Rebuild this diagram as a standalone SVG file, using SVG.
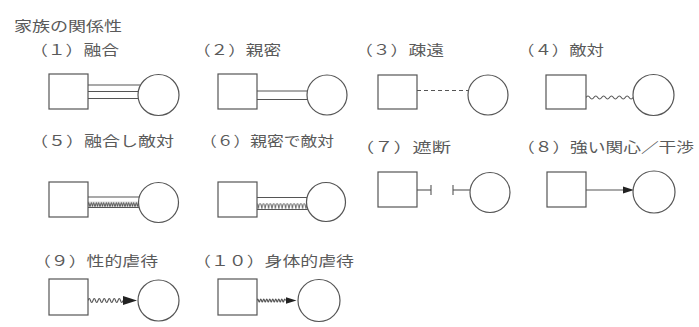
<svg xmlns="http://www.w3.org/2000/svg" width="699" height="327" viewBox="0 0 699 327">
<style>
text{font-family:"Noto Sans CJK JP","Noto Sans",sans-serif;font-size:14px;fill:#5a5a5a}
.n rect,.n circle{fill:#fff;stroke:#555;stroke-width:1.2}
.c path,.c line{fill:none;stroke:#555;stroke-width:1.1}
.z{stroke:none}
</style>
<defs>
<pattern id="zig5" x="0" y="201.5" width="2.5" height="6" patternUnits="userSpaceOnUse">
<polyline points="0,5.5 1.25,0.5 2.5,5.5" fill="none" stroke="#444" stroke-width="0.9"/>
</pattern>
<pattern id="zig6" x="0" y="203" width="3.4" height="6.5" patternUnits="userSpaceOnUse">
<path d="M0,6 Q0.8,0 1.7,0.5 Q2.6,0 3.4,6" fill="none" stroke="#666" stroke-width="0.9"/>
</pattern>
<marker id="ah" markerUnits="userSpaceOnUse" markerWidth="15" markerHeight="11" refX="0" refY="5" orient="0">
<path d="M0,0.5 L14,5 L0,9.5 z" fill="#222"/>
</marker>
<marker id="as" markerUnits="userSpaceOnUse" markerWidth="12" markerHeight="9" refX="0" refY="4" orient="0">
<path d="M0,0.5 L11,4 L0,7.5 z" fill="#222"/>
</marker>
</defs>
<text x="14" y="31" font-size="15" textLength="108" lengthAdjust="spacingAndGlyphs">家族の関係性</text>
<g id="labels">
<text x="30" y="55" textLength="89" lengthAdjust="spacingAndGlyphs">（１）融合</text>
<text x="193" y="55" textLength="88" lengthAdjust="spacingAndGlyphs">（２）親密</text>
<text x="355" y="55" textLength="89" lengthAdjust="spacingAndGlyphs">（３）疎遠</text>
<text x="517" y="55" textLength="87" lengthAdjust="spacingAndGlyphs">（４）敵対</text>
<text x="30" y="146" textLength="144" lengthAdjust="spacingAndGlyphs">（５）融合し敵対</text>
<text x="200" y="146" textLength="134" lengthAdjust="spacingAndGlyphs">（６）親密で敵対</text>
<text x="355" y="152" textLength="96" lengthAdjust="spacingAndGlyphs">（７）遮断</text>
<text x="517" y="152" textLength="177" lengthAdjust="spacingAndGlyphs">（８）強い関心／干渉</text>
<text x="33" y="266" textLength="125" lengthAdjust="spacingAndGlyphs">（９）性的虐待</text>
<text x="193" y="266" textLength="161" lengthAdjust="spacingAndGlyphs">（１０）身体的虐待</text>
</g>
<g id="connectors" class="c">
<line x1="88" y1="85" x2="140.6" y2="85"/>
<line x1="88" y1="91.5" x2="138.3" y2="91.5"/>
<line x1="88" y1="98.5" x2="138.3" y2="98.5"/>
<line x1="257" y1="91" x2="307.4" y2="91"/>
<line x1="257" y1="99.5" x2="307.5" y2="99.5"/>
<line x1="417" y1="90.5" x2="468" y2="90.5" stroke-dasharray="4 3"/>
<path d="M586,97.5 q1.96,-3 3.92,0 t3.92,0 t3.92,0 t3.92,0 t3.92,0 t3.92,0 t3.92,0 t3.92,0 t3.92,0 t3.92,0 t3.92,0 t3.92,0"/>
<line x1="88" y1="197" x2="140" y2="197"/>
<rect class="z" x="88" y="201.5" width="51" height="6" fill="url(#zig5)"/>
<line x1="88" y1="207.5" x2="139" y2="207.5"/>
<line x1="257" y1="197.5" x2="308" y2="197.5"/>
<rect class="z" x="257" y="203" width="51" height="6.5" fill="url(#zig6)"/>
<line x1="257" y1="209.5" x2="308.5" y2="209.5"/>
<line x1="417" y1="190" x2="431" y2="190"/>
<line x1="431" y1="185" x2="431" y2="195"/>
<line x1="453" y1="185" x2="453" y2="195"/>
<line x1="453" y1="190" x2="470" y2="190"/>
<path d="M586,190 H623" marker-end="url(#as)"/>
<path d="M88,300.5 q1.25,-4 2.5,0 t2.5,0 t2.5,0 t2.5,0 t2.5,0 t2.5,0 t2.5,0 t2.5,0 t2.5,0 t2.5,0 t2.5,0 t2.5,0 t2.5,0 t2.5,0" marker-end="url(#ah)"/>
<path d="M257,300.5 q0.75,-3 1.5,0 t1.5,0 t1.5,0 t1.5,0 t1.5,0 t1.5,0 t1.5,0 t1.5,0 t1.5,0 t1.5,0 t1.5,0 t1.5,0 t1.5,0 t1.5,0 t1.5,0 t1.5,0 t1.5,0 t1.5,0 t1.5,0" marker-end="url(#as)"/>
</g>
<g id="n1" class="n"><rect x="49" y="74" width="39" height="35"/><circle cx="158.5" cy="95" r="20.5"/></g>
<g id="n2" class="n"><rect x="218" y="74" width="39" height="35"/><circle cx="327" cy="95" r="20"/></g>
<g id="n3" class="n"><rect x="378" y="75" width="39" height="34"/><circle cx="488" cy="95" r="20"/></g>
<g id="n4" class="n"><rect x="546" y="75" width="40" height="34"/><circle cx="653.5" cy="95" r="20.5"/></g>
<g id="n5" class="n"><rect x="49" y="182" width="39" height="35"/><circle cx="158.5" cy="202.5" r="20"/></g>
<g id="n6" class="n"><rect x="218" y="182" width="39" height="35"/><circle cx="326" cy="202" r="19.5"/></g>
<g id="n7" class="n"><rect x="378" y="172" width="39" height="35"/><circle cx="490" cy="192.5" r="20"/></g>
<g id="n8" class="n"><rect x="547" y="172" width="39" height="35"/><circle cx="654" cy="192" r="21"/></g>
<g id="n9" class="n"><rect x="49" y="279" width="39" height="36"/><circle cx="158.5" cy="300.5" r="20.5"/></g>
<g id="n10" class="n"><rect x="218" y="279" width="39" height="36"/><circle cx="319" cy="300.5" r="21"/></g>
</svg>
